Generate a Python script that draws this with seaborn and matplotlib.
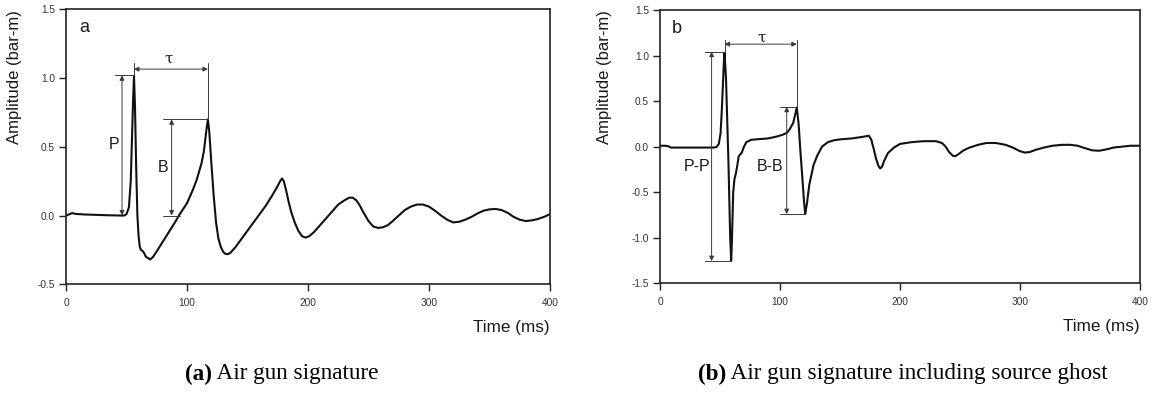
import numpy as np
import pandas as pd
import matplotlib
matplotlib.use("Agg")
import matplotlib.pyplot as plt
import seaborn as sns

# ---------------- data ----------------
time_a = [0, 3, 5, 8, 15, 25, 35, 45, 48, 50, 52, 53.5, 54.5, 55.5, 56.2, 57, 58, 59, 60, 61, 62,
          63, 64, 65, 66, 68, 69.5, 72, 75, 80, 85, 90, 94, 100, 105, 108, 112, 114, 116, 117.3,
          118.5, 120, 122, 124, 126, 128, 130, 132, 134, 136, 140, 145, 150, 155, 160, 165, 170,
          174, 177, 178.5, 180, 182, 184, 186, 189, 192, 195, 198, 201, 205, 210, 215, 220, 225,
          230, 234, 237, 240, 243, 246, 250, 254, 258, 262, 266, 270, 275, 280, 285, 290, 295,
          300, 305, 310, 315, 320, 325, 330, 335, 340, 345, 350, 355, 360, 365, 370, 375, 380,
          385, 390, 395, 400]
amp_a = [0.00, 0.01, 0.018, 0.012, 0.008, 0.005, 0.002, 0.0, 0.0, 0.01, 0.06, 0.25, 0.55, 0.85,
         1.01, 0.80, 0.35, 0.0, -0.15, -0.23, -0.25, -0.255, -0.265, -0.28, -0.30, -0.31, -0.32,
         -0.30, -0.26, -0.19, -0.12, -0.05, 0.01, 0.09, 0.19, 0.26, 0.38, 0.47, 0.62, 0.70,
         0.60, 0.40, 0.15, -0.05, -0.17, -0.23, -0.265, -0.28, -0.28, -0.27, -0.23, -0.17, -0.11,
         -0.05, 0.01, 0.07, 0.14, 0.20, 0.25, 0.27, 0.25, 0.18, 0.10, 0.03, -0.05, -0.11, -0.15,
         -0.16, -0.15, -0.12, -0.07, -0.02, 0.03, 0.08, 0.11, 0.13, 0.13, 0.11, 0.07, 0.02, -0.04,
         -0.08, -0.09, -0.085, -0.07, -0.04, 0.00, 0.04, 0.065, 0.08, 0.08, 0.065, 0.035, 0.00,
         -0.03, -0.05, -0.045, -0.03, -0.01, 0.015, 0.035, 0.045, 0.048, 0.04, 0.02, -0.01, -0.03,
         -0.04, -0.035, -0.025, -0.01, 0.01]

time_b = [0, 4, 7, 9, 15, 30, 45, 47, 49, 50.5, 51.5, 52.5, 53.3, 53.8, 55, 56, 57, 57.8, 58.5,
          59.3, 59.9, 61, 62, 63.3, 64.5, 65.5, 66.5, 68, 70, 72, 76, 80, 85, 90, 97, 102, 105.6,
          108, 111, 114, 115.5, 117, 118.5, 120, 121, 122.5, 124.4, 126, 128, 131, 135, 140, 145,
          150, 160, 170, 174, 176, 178, 180, 182, 183.5, 185, 187, 190, 195, 200, 210, 220, 230,
          235, 238, 241, 244, 246, 249, 253, 258, 265, 272, 280, 288, 294, 300, 304, 308, 313,
          320, 327, 335, 342, 348, 355, 360, 366, 372, 378, 385, 392, 400]
amp_b = [0.01, 0.01, 0.005, -0.01, -0.01, -0.01, -0.01, -0.005, 0.03, 0.15, 0.40, 0.70, 0.95,
         1.03, 0.75, 0.30, -0.15, -0.60, -1.00, -1.25, -1.05, -0.50, -0.36, -0.29, -0.20, -0.11,
         -0.09, -0.07, 0.00, 0.05, 0.075, 0.08, 0.085, 0.09, 0.11, 0.13, 0.15, 0.19, 0.26, 0.43,
         0.25, -0.05, -0.32, -0.60, -0.74, -0.62, -0.42, -0.32, -0.20, -0.10, 0.00, 0.05, 0.07,
         0.08, 0.09, 0.11, 0.12, 0.08, -0.02, -0.13, -0.21, -0.24, -0.22, -0.15, -0.07, -0.01,
         0.03, 0.05, 0.06, 0.06, 0.04, 0.00, -0.06, -0.10, -0.105, -0.08, -0.04, -0.01, 0.02,
         0.04, 0.04, 0.02, -0.01, -0.05, -0.065, -0.06, -0.035, -0.01, 0.01, 0.02, 0.02, 0.01,
         -0.02, -0.04, -0.045, -0.03, -0.01, 0.0, 0.01, 0.01]

x_ticks = [0, 100, 200, 300, 400]
y_ticks_a = [-0.5, 0.0, 0.5, 1.0, 1.5]
y_ticks_b = [-1.5, -1.0, -0.5, 0.0, 0.5, 1.0, 1.5]

# annotation readings (a)
a_P_t, a_P_top, a_P_arrow_x, a_P_left = 56.2, 1.02, 46.3, 40.5
a_B_t, a_B_top, a_B_arrow_x, a_B_left, a_B_base_right = 117.3, 0.70, 87.3, 80.0, 94.0
a_tau_y, a_tau_top = 1.065, 1.107
# annotation readings (b)
b_P_t, b_P_top, b_P_min_t, b_P_bot, b_P_arrow_x, b_P_left = 53.8, 1.042, 59.3, -1.256, 43.0, 37.5
b_B_t, b_B_top, b_B_min_t, b_B_bot, b_B_arrow_x, b_B_left = 114.0, 0.438, 121.0, -0.74, 105.6, 100.0
b_tau_y, b_tau_top = 1.125, 1.17

captions = [("(a)", " Air gun signature"), ("(b)", " Air gun signature including source ghost")]

# ---------------- style ----------------
sns.set_style("white")
plt.rcParams['font.family'] = ['Liberation Sans', 'DejaVu Sans']
TXT = '#1a1a1a'
ANN = '#3a3a3a'

fig = plt.figure(figsize=(11.53, 3.98), dpi=100)
W, H = 1153, 398
ax_a = fig.add_axes([66 / W, 1 - 284.3 / H, 484 / W, 275 / H])
ax_b = fig.add_axes([660 / W, 1 - 283.3 / H, 480 / W, 273.3 / H])

df_a = pd.DataFrame({"t": time_a, "amp": amp_a})
df_b = pd.DataFrame({"t": time_b, "amp": amp_b})
sns.lineplot(data=df_a, x="t", y="amp", ax=ax_a, color='#111111', lw=1.5, estimator=None, sort=False)
sns.lineplot(data=df_b, x="t", y="amp", ax=ax_b, color='#111111', lw=1.5, estimator=None, sort=False)


def hline(ax, y, x0, x1):
    ax.plot([x0, x1], [y, y], color=ANN, lw=0.7)


def vline(ax, x, y0, y1):
    ax.plot([x, x], [y0, y1], color=ANN, lw=0.7)


def darrow(ax, p0, p1):
    ax.annotate('', xy=p1, xytext=p0,
                arrowprops=dict(arrowstyle='<|-|>', color=ANN, lw=0.7, mutation_scale=7,
                                shrinkA=0, shrinkB=0))


# panel a annotations
hline(ax_a, a_P_top, a_P_left, a_P_t)
darrow(ax_a, (a_P_arrow_x, 0.0), (a_P_arrow_x, a_P_top))
hline(ax_a, a_B_top, a_B_left, a_B_t)
hline(ax_a, 0.0, a_B_left, a_B_base_right)
darrow(ax_a, (a_B_arrow_x, 0.0), (a_B_arrow_x, a_B_top))
vline(ax_a, a_P_t, a_P_top, a_tau_top)
vline(ax_a, a_B_t, a_B_top, a_tau_top)
darrow(ax_a, (a_P_t, a_tau_y), (a_B_t, a_tau_y))
ax_a.text(85, 1.14, "τ", ha='center', va='center', fontsize=11, color=TXT, family='DejaVu Serif')
ax_a.text(39.7, 0.52, "P", ha='center', va='center', fontsize=11.5, color=TXT)
ax_a.text(80, 0.35, "B", ha='center', va='center', fontsize=11.5, color=TXT)
ax_a.text(14.9, 1.364, "a", ha='center', va='center', fontsize=13, color=TXT)

# panel b annotations
hline(ax_b, b_P_top, b_P_left, b_P_t)
hline(ax_b, b_P_bot, b_P_left, b_P_min_t)
darrow(ax_b, (b_P_arrow_x, b_P_bot), (b_P_arrow_x, b_P_top))
hline(ax_b, b_B_top, b_B_left, b_B_t)
hline(ax_b, b_B_bot, b_B_left, b_B_min_t)
darrow(ax_b, (b_B_arrow_x, b_B_bot), (b_B_arrow_x, b_B_top))
vline(ax_b, b_P_t, b_P_top, b_tau_top)
vline(ax_b, b_B_t, b_B_top, b_tau_top)
darrow(ax_b, (b_P_t, b_tau_y), (b_B_t, b_tau_y))
ax_b.text(84.3, 1.20, "τ", ha='center', va='center', fontsize=11, color=TXT, family='DejaVu Serif')
ax_b.text(31, -0.22, "P-P", ha='center', va='center', fontsize=11.5, color=TXT)
ax_b.text(91.6, -0.22, "B-B", ha='center', va='center', fontsize=11.5, color=TXT)
ax_b.text(14, 1.30, "b", ha='center', va='center', fontsize=13, color=TXT)

for ax, yt, ylim, ylx in [(ax_a, y_ticks_a, (-0.5, 1.5), -0.09), (ax_b, y_ticks_b, (-1.5, 1.5), -0.099)]:
    ax.set_xlim(0, 400)
    ax.set_ylim(*ylim)
    ax.set_xticks(x_ticks)
    ax.set_xticklabels([str(v) for v in x_ticks])
    ax.set_yticks(yt)
    ax.set_yticklabels([f"{v:.1f}" for v in yt])
    ax.tick_params(axis='both', which='both', direction='out', length=5, width=1.0,
                   labelsize=7.3, labelcolor='#333333', color='#222222', pad=3,
                   bottom=True, left=True, top=False, right=False)
    ax.tick_params(axis='x', pad=5)
    for s in ax.spines.values():
        s.set_visible(True)
        s.set_color('#222222')
        s.set_linewidth(1.2)
    ax.set_ylabel("Amplitude (bar-m)", fontsize=12, color=TXT)
    ax.yaxis.set_label_coords(ylx, 0.755)
    ax.set_xlabel("Time (ms)", fontsize=12.3, color=TXT, loc='right')
    ax.xaxis.set_label_coords(1.0, -0.13)

# captions: bold "(x)" followed by regular text, centred as a whole
fig.canvas.draw()
renderer = fig.canvas.get_renderer()
cap_y = 1 - 374 / H
for (bold, rest), cx in zip(captions, [282 / W, 903 / W]):
    tb = fig.text(0, cap_y, bold, fontsize=16.7, fontweight='bold', family='Liberation Serif',
                  ha='left', va='center', color='black')
    tr = fig.text(0, cap_y, rest, fontsize=16.7, family='Liberation Serif',
                  ha='left', va='center', color='black')
    wb = tb.get_window_extent(renderer).width / fig.bbox.width
    wr = tr.get_window_extent(renderer).width / fig.bbox.width
    x0 = cx - (wb + wr) / 2
    tb.set_x(x0)
    tr.set_x(x0 + wb)

fig.savefig("out.png", dpi=100)
